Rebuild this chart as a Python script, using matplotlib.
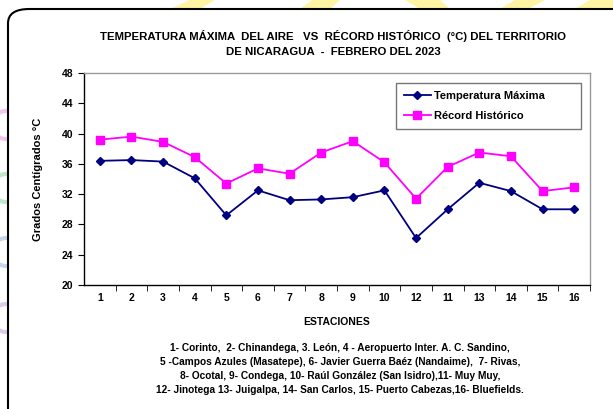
import matplotlib
matplotlib.use('Agg')
import matplotlib.pyplot as plt
from matplotlib.patches import FancyBboxPatch, Polygon, Ellipse

# station order as printed on the x axis (11 and 12 are swapped in the original)
estaciones = ['1', '2', '3', '4', '5', '6', '7', '8', '9', '10', '12', '11', '13', '14', '15', '16']
temp_maxima = [36.4, 36.5, 36.3, 34.1, 29.2, 32.5, 31.2, 31.3, 31.6, 32.5, 26.2, 30.0, 33.5, 32.4, 30.0, 30.0]
record_hist = [39.2, 39.6, 38.9, 36.9, 33.4, 35.4, 34.7, 37.5, 39.0, 36.2, 31.4, 35.6, 37.5, 37.0, 32.4, 32.9]

yticks = [20, 24, 28, 32, 36, 40, 44, 48]

plt.rcParams['font.family'] = ['Liberation Sans', 'DejaVu Sans']
plt.rcParams['font.weight'] = 'bold'

fig = plt.figure(figsize=(6.13, 4.09), dpi=100)
W, H = 613, 409

# background decorations (faint shapes behind the frame)
for pts in [[(170, 9), (190, 0), (215, 0), (200, 9)],
            [(300, 9), (312, 0), (340, 0), (330, 9)],
            [(420, 9), (405, 0), (440, 0), (450, 9)],
            [(500, 9), (515, 0), (545, 0), (528, 9)],
            [(575, 9), (590, 0), (613, 0), (613, 9)]]:
    fig.patches.append(Polygon([(x / W, 1 - y / H) for x, y in pts], closed=True,
                               transform=fig.transFigure, facecolor='#ffee66',
                               edgecolor='none', alpha=0.6, zorder=0))
for yc, col in [(125, '#f4c6ee'), (188, '#bfe8c8'), (252, '#c6d6ee'), (318, '#dccbea')]:
    fig.patches.append(Ellipse((6 / W, 1 - yc / H), 28 / W, 28 / H, transform=fig.transFigure,
                               facecolor='none', edgecolor=col, linewidth=3, zorder=0))

# rounded frame
frame = FancyBboxPatch((8 / W, -0.2), 1.2, 1 - 9 / H + 0.2,
                       boxstyle='round,pad=0,rounding_size=0.035',
                       transform=fig.transFigure, facecolor='white',
                       edgecolor='black', linewidth=1.5, zorder=1)
fig.patches.append(frame)

ax = fig.add_axes([84 / W, 1 - 285 / H, (590 - 84) / W, (285 - 73) / H])
ax.set_zorder(5)
ax.set_facecolor('white')
x = list(range(len(estaciones)))

ax.plot(x, temp_maxima, color='#000080', marker='D', markersize=4.5, linewidth=1.3,
        label='Temperatura Máxima')
ax.plot(x, record_hist, color='#ff00ff', marker='s', markersize=6, linewidth=1.3,
        label='Récord Histórico')

ax.set_xlim(-0.5, len(estaciones) - 0.5)
ax.set_ylim(20, 48)
ax.set_yticks(yticks)
ax.set_xticks(x)
ax.set_xticklabels(estaciones)
ax.set_xticks([i + 0.5 for i in range(len(estaciones))], minor=True)
ax.tick_params(axis='x', which='major', length=0, labelsize=7.5, pad=6)
ax.tick_params(axis='x', which='minor', length=4, direction='out', color='black')
ax.tick_params(axis='y', length=4, labelsize=7.5, direction='out')

for s in ['top', 'right']:
    ax.spines[s].set_color('#999999')
for s in ['left', 'bottom']:
    ax.spines[s].set_color('black')
for s in ax.spines.values():
    s.set_linewidth(1)

ax.set_ylabel('Grados Centígrados °C', fontsize=8, fontweight='bold', labelpad=14)
ax.set_xlabel('ESTACIONES', fontsize=7.5, fontweight='bold', labelpad=10)

# legend box roughly 396-581 px wide, 83-128 px high
leg = ax.legend(loc='upper left', bbox_to_anchor=(0.617, 0.953, 0.365, 0.0),
                mode='expand', borderaxespad=0, fontsize=8,
                frameon=True, fancybox=False, edgecolor='#555555',
                handlelength=2.4, handletextpad=0.3, borderpad=0.7, labelspacing=0.9)
leg.get_frame().set_linewidth(1)

fig.text(333 / W, 1 - 36 / H,
         'TEMPERATURA MÁXIMA  DEL AIRE   VS  RÉCORD HISTÓRICO  (°C) DEL TERRITORIO',
         ha='center', va='center', fontsize=8.2, fontweight='bold')
fig.text(333 / W, 1 - 52 / H, 'DE NICARAGUA  -  FEBRERO DEL 2023',
         ha='center', va='center', fontsize=8.2, fontweight='bold')

notas = ['1- Corinto,  2- Chinandega, 3. León, 4 - Aeropuerto Inter. A. C. Sandino,',
         '5 -Campos Azules (Masatepe), 6- Javier Guerra Baéz (Nandaime),  7- Rivas,',
         '8- Ocotal, 9- Condega, 10- Raúl González (San Isidro),11- Muy Muy,',
         '12- Jinotega 13- Juigalpa, 14- San Carlos, 15- Puerto Cabezas,16- Bluefields.']
for i, linea in enumerate(notas):
    fig.text(340 / W, 1 - (348 + 14 * i) / H, linea, ha='center', va='center',
             fontsize=7.3, fontweight='bold')

fig.savefig('out.png', dpi=100)
